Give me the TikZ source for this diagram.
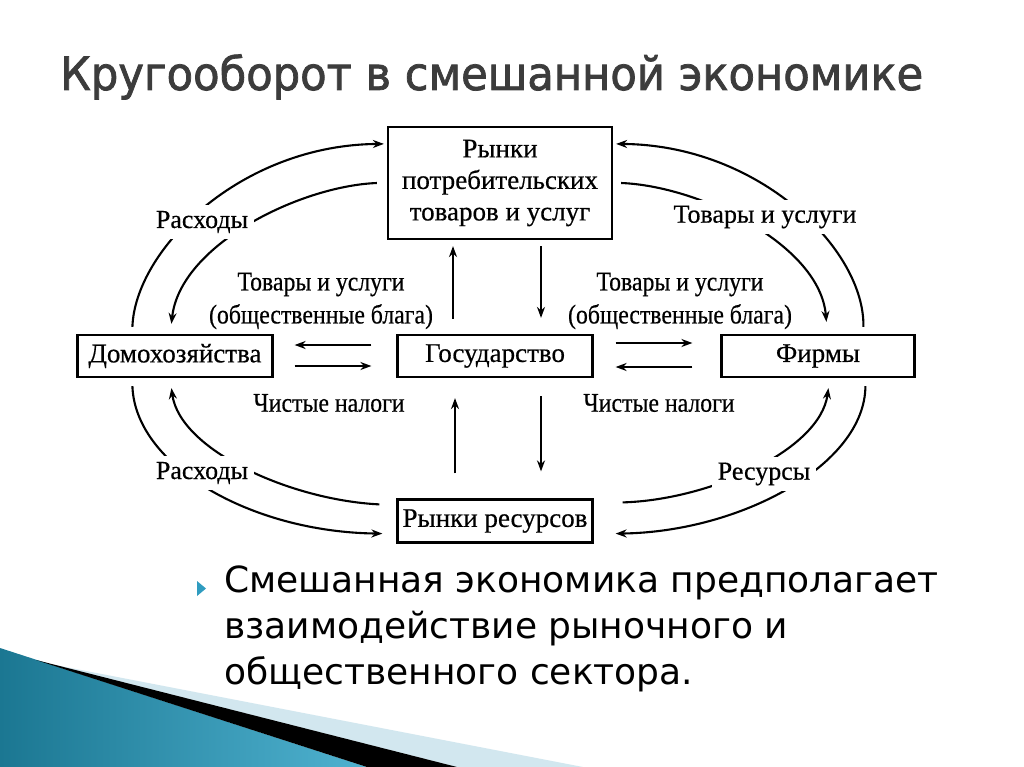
\documentclass[tikz,border=0pt]{standalone}
\usepackage{fontspec}
\setmainfont[FakeBold=0.5]{Liberation Serif}
\newfontfamily\labfont[FakeStretch=0.88,FakeBold=0.5]{Liberation Serif}
\newfontfamily\bodyfont{DejaVu Sans}
\newfontfamily\titlefont[FakeStretch=0.94,FakeBold=1.6]{DejaVu Sans}
\usetikzlibrary{arrows.meta,calc}
\definecolor{titlegray}{HTML}{3C3C3C}
\definecolor{tealdark}{HTML}{1B7792}
\definecolor{teallight}{HTML}{4FB2D0}
\definecolor{palecyan}{HTML}{D2E7EF}
\definecolor{bulletc}{HTML}{2F9CC0}
\begin{document}
\begin{tikzpicture}[x=1pt,y=-1pt,
  box/.style={draw, line width=2.2pt, inner sep=0pt, align=center,
    font=\fontsize{27}{31.5}\selectfont},
  flow/.style={line width=2.1pt, -{Stealth[length=11pt,width=8pt]}},
  lab/.style={fill=white, inner sep=6pt, font=\fontsize{26}{31}\selectfont},
  ilab/.style={inner sep=2pt, align=center, font=\labfont\fontsize{27}{33}\selectfont}
]
\useasboundingbox (0,0) rectangle (1024,767);
\fill[white] (0,0) rectangle (1024,767);

% decoration bottom-left
\shade[left color=tealdark, right color=teallight] (0,648) -- (367,767) -- (0,767) -- cycle;
\fill[palecyan] (50,664) -- (583,767) -- (457,767) -- cycle;
\fill[black] (36,660) -- (457,767) -- (367,767) -- cycle;

% title
\node[anchor=base west, inner sep=0pt, text=titlegray,
  font=\titlefont\fontsize{46}{50}\selectfont] (title) at (60,90) {Кругооборот в смешанной экономике};

% boxes
\node[box, minimum width=224pt, minimum height=112pt] (cm) at (500,183) {Рынки\\потребительских\\товаров и услуг};
\node[box, minimum width=195pt, minimum height=42pt] (hh) at (175,356) {Домохозяйства};
\node[box, minimum width=195pt, minimum height=42pt] (gov) at (495,356) {Государство};
\node[box, minimum width=193pt, minimum height=42pt] (firms) at (818,356) {Фирмы};
\node[box, minimum width=195pt, minimum height=43pt] (res) at (495,521) {Рынки ресурсов};

% outer arcs
\draw[flow] ($(hh.north west)+(56,-7)$) .. controls (135,250) and (240,145) .. ($(cm.north west)+(-3,18)$);
\draw[flow] ($(cm.west)+(-10,0)$) .. controls (300,186) and (180,245) .. ($(hh.north west)+(95,-10)$);
\draw[flow] ($(firms.north west)+(143,-7)$) .. controls (865,250) and (760,145) .. ($(cm.north east)+(3,18)$);
\draw[flow] ($(cm.east)+(8,0)$) .. controls (700,186) and (820,245) .. ($(firms.north west)+(106,-12)$);
\draw[flow] ($(hh.south west)+(56,8)$) .. controls (135,465) and (250,532) .. ($(res.south west)+(-14,-10)$);
\draw[flow] ($(res.north west)+(-17,6)$) .. controls (290,500) and (180,450) .. ($(hh.south west)+(95,10)$);
\draw[flow] ($(firms.south west)+(145,8)$) .. controls (865,465) and (740,532) .. ($(res.south east)+(22,-10)$);
\draw[flow] ($(res.north east)+(29,4)$) .. controls (710,500) and (820,450) .. ($(firms.south west)+(108,10)$);

% horizontal arrows
\draw[flow] ($(gov.west)+(-25,-11)$) -- ($(hh.east)+(21,-11)$);
\draw[flow] ($(hh.east)+(21,10)$) -- ($(gov.west)+(-25,10)$);
\draw[flow] ($(gov.east)+(22,-13)$) -- ($(firms.west)+(-28,-13)$);
\draw[flow] ($(firms.west)+(-28,11)$) -- ($(gov.east)+(22,11)$);

% vertical arrows
\draw[flow] ($(gov.north)+(-42,-15)$) -- ($(cm.south)+(-47,6)$);
\draw[flow] ($(cm.south)+(41,6)$) -- ($(gov.north)+(46,-16)$);
\draw[flow] ($(res.north)+(-40,-25)$) -- ($(gov.south)+(-40,20)$);
\draw[flow] ($(gov.south)+(46,18)$) -- ($(res.north)+(46,-27)$);

% labels
\node[lab] (l1) at (202,222) {Расходы};
\node[lab] (l2) at (202,473) {Расходы};
\node[lab] (l3) at (765,217) {Товары и услуги};
\node[lab] (l4) at (764,474) {Ресурсы};
\node[ilab] (l5) at (321,301) {Товары и услуги\\(общественные блага)};
\node[ilab] (l6) at (680,301) {Товары и услуги\\(общественные блага)};
\node[ilab] (l7) at (329,403) {Чистые налоги};
\node[ilab] (l8) at (659,403) {Чистые налоги};

% bullet
\fill[bulletc] (197,581) -- (206,588.5) -- (197,596) -- cycle;
\node[anchor=base west, inner sep=0pt, font=\bodyfont\fontsize{36}{46}\selectfont] (b1) at (224,592) {Смешанная экономика предполагает};
\node[anchor=base west, inner sep=0pt, font=\bodyfont\fontsize{36}{46}\selectfont] (b2) at (224,638) {взаимодействие рыночного и};
\node[anchor=base west, inner sep=0pt, font=\bodyfont\fontsize{36}{46}\selectfont] (b3) at (224,684) {общественного сектора.};
\end{tikzpicture}
\end{document}
